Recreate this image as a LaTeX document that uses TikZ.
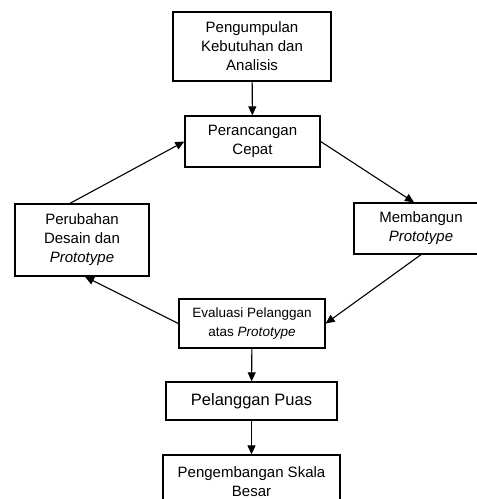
\documentclass[tikz,border=0pt]{standalone}
\usepackage{fontspec}
\setmainfont{Liberation Sans}
\usetikzlibrary{positioning,arrows.meta}

\begin{document}
\begin{tikzpicture}[x=1pt,y=-1pt,
    box/.style={draw, line width=1.3pt, align=center, inner sep=0pt, font=\fontsize{15}{19}\selectfont},
    arr/.style={line width=1.1pt, -{Triangle[length=9pt,width=8pt]}}]

    \clip (0,0) rectangle (477,499);
    \fill[white] (0,0) rectangle (477,499);

    \node[box, minimum width=158, minimum height=69] (kebutuhan) at (252,46.5) {Pengumpulan\\Kebutuhan dan\\Analisis};
    \node[box, minimum width=135, minimum height=51] (rancang) at (252.5,141.5) {Perancangan\\Cepat};
    \node[box, minimum width=134, minimum height=72] (ubah) at (82,240) {Perubahan\\Desain dan\\\textit{Prototype}};
    \node[box, minimum width=134, minimum height=51] (bangun) at (421,228.5) {Membangun\\\textit{Prototype}};
    \node[box, minimum width=146, minimum height=49, font=\fontsize{13.5}{19}\selectfont] (evaluasi) at (252,323.5) {Evaluasi Pelanggan\\atas \textit{Prototype}};
    \node[box, minimum width=171, minimum height=38, font=\fontsize{16.5}{19}\selectfont] (puas) at (251.5,401) {Pelanggan Puas};
    \node[box, minimum width=177, minimum height=53] (skala) at (251.5,481.5) {Pengembangan Skala\\Besar};

    \draw[arr] (kebutuhan) -- (rancang);
    \draw[arr] ([xshift=-12pt]ubah.north) -- (rancang.west);
    \draw[arr] (rancang.east) -- ([xshift=-7pt]bangun.north);
    \draw[arr] (bangun.south) -- (evaluasi.east);
    \draw[arr] (evaluasi.west) -- ([xshift=3pt]ubah.south);
    \draw[arr] (evaluasi) -- (puas);
    \draw[arr] (puas) -- (skala);

\end{tikzpicture}
\end{document}
